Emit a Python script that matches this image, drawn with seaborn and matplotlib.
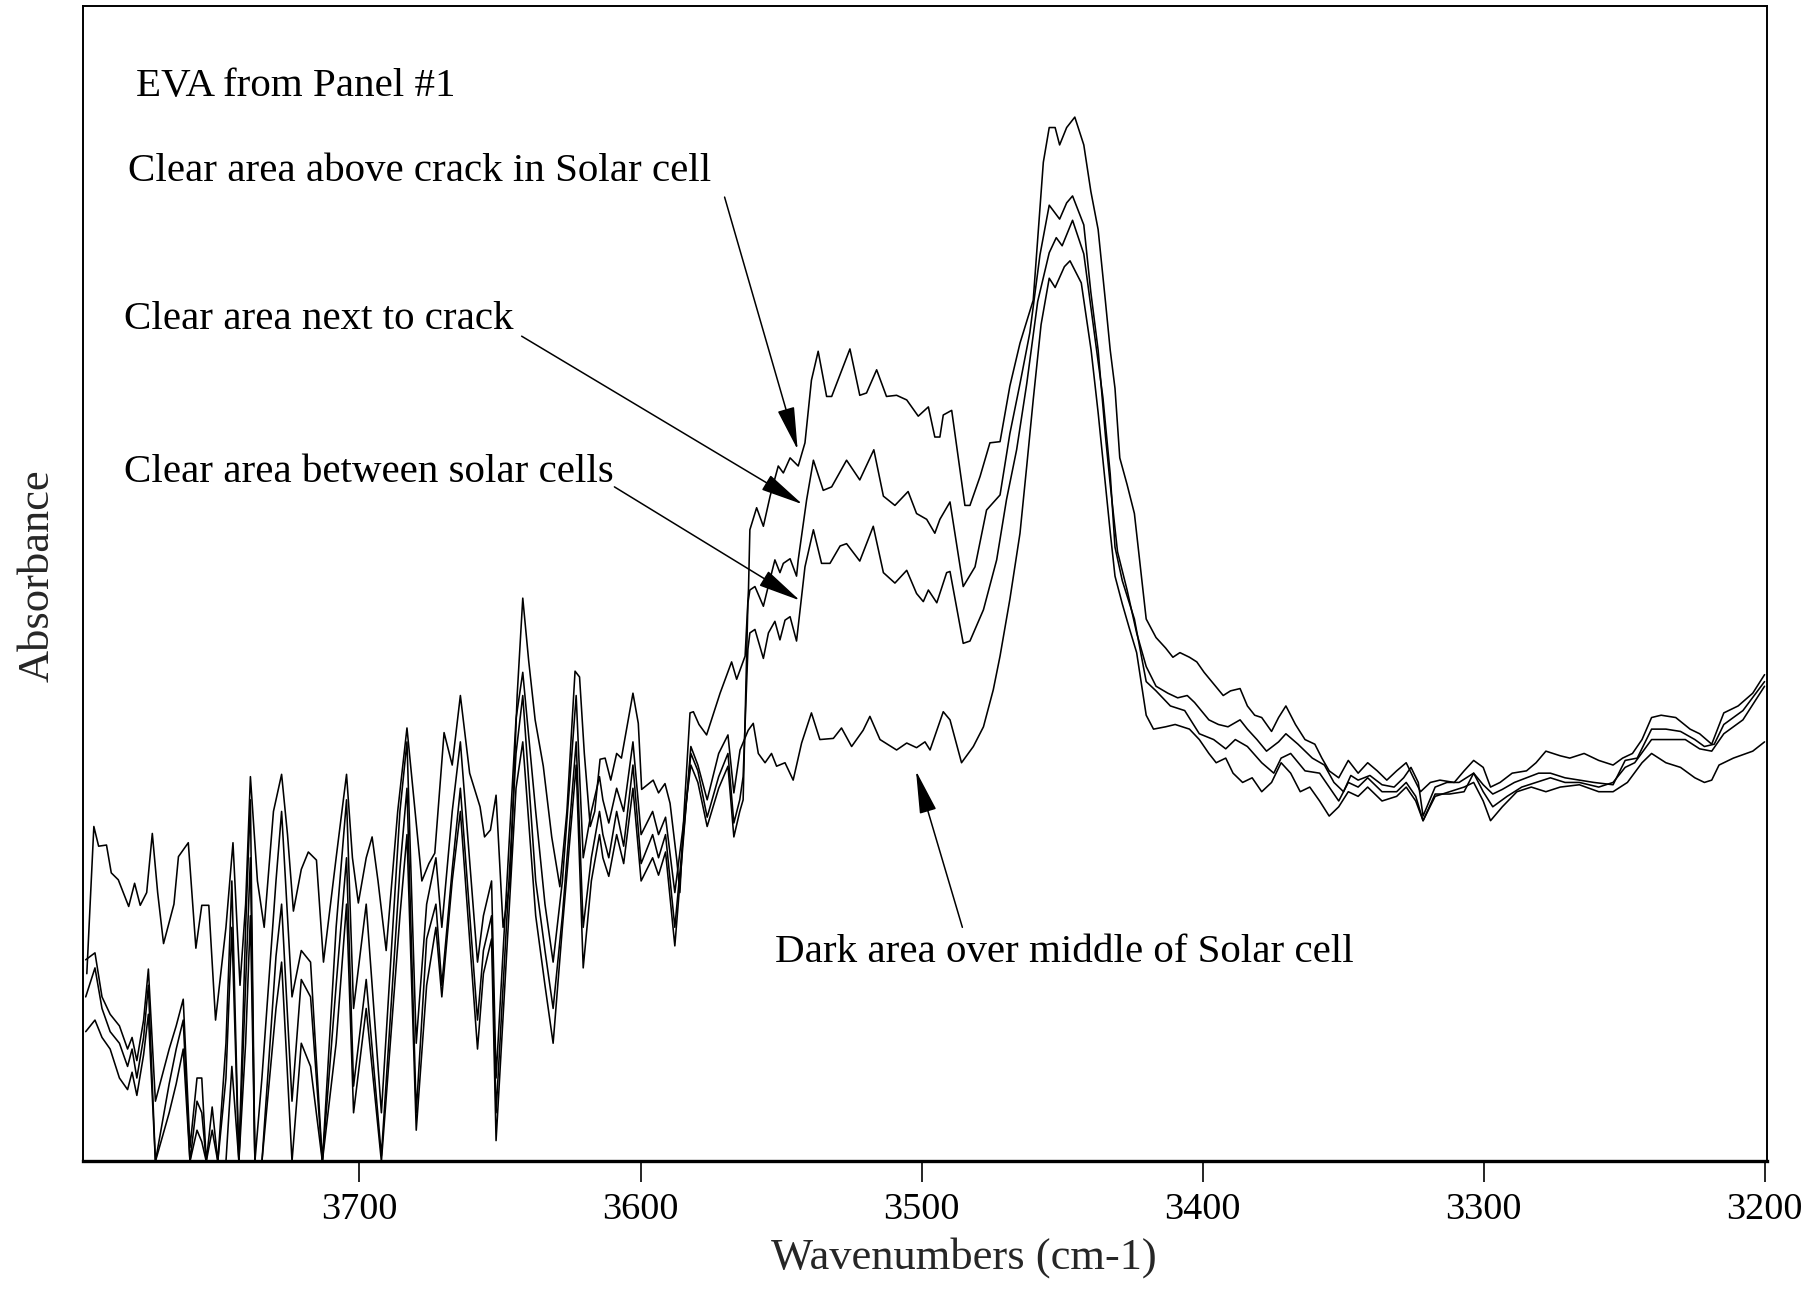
import matplotlib
matplotlib.use("Agg")
import matplotlib.pyplot as plt
import seaborn as sns
import pandas as pd

# ---------------- data (wavenumber cm-1, absorbance in arbitrary units) ----------------
# shared sampling positions of the noisy water-vapour region for the three lower spectra
noise_wn = [3797.4, 3794.1, 3791.6, 3788.7, 3785.4, 3782.5, 3780.9, 3779.2, 3776.8, 3775.1,
            3772.6, 3767.7, 3765.2, 3762.7, 3760.3, 3757.8, 3756.1, 3754.5, 3752.4, 3750.4,
            3747.5, 3745.4, 3742.9, 3740.5, 3738.8, 3737.2, 3734.7, 3729.7, 3727.7, 3724.0,
            3720.7, 3717.4, 3713.2, 3708.3, 3704.6, 3702.1, 3697.6, 3692.2, 3685.6, 3683.1,
            3679.8, 3676.1, 3672.8, 3670.7, 3667.0, 3664.1, 3658.0, 3655.9, 3653.0, 3651.4,
            3644.3, 3641.9, 3637.3, 3634.0, 3631.1, 3627.8, 3622.9, 3620.4, 3617.5, 3614.6,
            3613.4, 3611.3, 3608.5, 3606.0, 3602.7, 3599.8, 3595.7, 3593.6, 3591.1, 3587.8,
            3582.1, 3579.6, 3576.3, 3572.2, 3568.9, 3566.8, 3564.7, 3563.5]

# --- Curve A: Clear area above crack in Solar cell ---
a_noise_wn = [3797.0, 3794.5, 3792.8, 3790.0, 3788.3, 3785.8, 3782.1, 3780.0, 3778.0, 3775.7,
              3773.7, 3771.8, 3769.7, 3766.0, 3764.4, 3760.9, 3758.2, 3756.1, 3753.6, 3751.2,
              3747.5, 3745.0, 3742.5, 3740.5, 3738.8, 3736.3, 3733.9, 3730.6, 3727.7, 3725.6,
              3723.5, 3720.7, 3718.2, 3715.3, 3712.8, 3708.3, 3704.6, 3702.5, 3700.4, 3697.6,
              3695.5, 3693.4, 3690.5, 3686.4, 3683.1, 3680.2, 3677.8, 3675.3, 3673.2, 3669.9,
              3667.0, 3664.1, 3660.8, 3657.1, 3655.5, 3653.4, 3651.4, 3648.9, 3646.4, 3643.9,
              3641.9, 3639.8, 3637.5, 3634.6, 3631.6, 3628.7, 3626.2, 3623.3, 3621.7, 3620.0,
              3617.9, 3616.3, 3614.4, 3612.6, 3610.6, 3608.5, 3606.8, 3602.7, 3600.8, 3599.6,
              3595.5, 3593.6, 3591.3, 3589.5, 3587.1, 3586.0, 3584.5, 3582.4, 3581.2, 3579.2,
              3576.5, 3571.7, 3567.6, 3565.8, 3562.8, 3561.6]
a_noise_abs = [0.162, 0.289, 0.272, 0.273, 0.249, 0.243, 0.220, 0.240, 0.221, 0.232,
               0.283, 0.232, 0.188, 0.222, 0.263, 0.275, 0.184, 0.221, 0.221, 0.122,
               0.202, 0.275, 0.152, 0.222, 0.332, 0.242, 0.202, 0.302, 0.334, 0.282,
               0.216, 0.252, 0.267, 0.260, 0.172, 0.262, 0.334, 0.262, 0.223, 0.262,
               0.280, 0.242, 0.182, 0.302, 0.374, 0.302, 0.242, 0.257, 0.266, 0.370,
               0.342, 0.402, 0.335, 0.306, 0.280, 0.286, 0.316, 0.202, 0.242, 0.402,
               0.486, 0.432, 0.381, 0.341, 0.280, 0.237, 0.302, 0.423, 0.418, 0.352,
               0.289, 0.302, 0.347, 0.348, 0.329, 0.352, 0.348, 0.404, 0.378, 0.321,
               0.329, 0.318, 0.326, 0.309, 0.260, 0.232, 0.302, 0.387, 0.388, 0.377,
               0.368, 0.404, 0.431, 0.416, 0.436, 0.493]
a_band_wn = [3561.1, 3558.7, 3556.3, 3553.9, 3551.0, 3549.2, 3546.8, 3543.9, 3541.5, 3539.2,
             3536.8, 3533.8, 3532.0, 3525.5, 3522.0, 3519.6, 3516.0, 3512.5, 3508.9, 3505.3,
             3501.2, 3497.6, 3495.3, 3493.5, 3492.3, 3489.3, 3484.6, 3482.8, 3479.2, 3475.7,
             3472.1, 3468.6, 3465.0, 3460.3,
             3456.7, 3454.6, 3452.5, 3450.9, 3448.4, 3445.5,
             3442.3, 3439.8, 3437.2, 3434.6, 3432.9, 3431.2, 3429.5, 3426.9, 3424.3, 3422.6, 3420.1]
a_band_abs = [0.545, 0.564, 0.548, 0.574, 0.600, 0.594, 0.607, 0.600, 0.620, 0.674,
              0.699, 0.660, 0.660, 0.701, 0.661, 0.663, 0.683, 0.660, 0.661, 0.657,
              0.643, 0.651, 0.625, 0.625, 0.644, 0.648, 0.566, 0.566, 0.591, 0.620,
              0.621, 0.669, 0.706, 0.743,
              0.862, 0.892, 0.892, 0.877, 0.892, 0.901,
              0.877, 0.837, 0.804, 0.742, 0.700, 0.667, 0.607, 0.584, 0.559, 0.522, 0.468]
a_tail_wn = [3416.6, 3413.2, 3410.6, 3408.1, 3404.7, 3402.1, 3399.5, 3396.1, 3392.7, 3390.1,
             3386.7, 3384.1, 3381.5, 3379.0, 3375.5, 3373.0, 3370.4, 3367.0, 3363.6, 3360.1,
             3357.6, 3355.0, 3351.6, 3348.2, 3344.7, 3341.3, 3337.9, 3334.5, 3331.0, 3327.6,
             3325.0, 3322.5, 3319.0, 3315.6, 3310.5, 3307.0, 3303.6, 3300.2, 3297.6, 3294.2,
             3289.9, 3284.8, 3281.4, 3277.9, 3272.8, 3269.4, 3264.3, 3259.1, 3254.0, 3250.6,
             3247.1, 3243.7, 3240.3, 3236.9, 3231.7, 3226.6, 3223.2, 3218.9, 3214.6, 3209.5,
             3204.3, 3200.1]
a_tail_abs = [0.452, 0.443, 0.435, 0.439, 0.435, 0.431, 0.422, 0.412, 0.402, 0.406,
              0.408, 0.393, 0.385, 0.383, 0.371, 0.383, 0.393, 0.377, 0.364, 0.360,
              0.348, 0.337, 0.331, 0.346, 0.335, 0.344, 0.337, 0.329, 0.337, 0.344,
              0.331, 0.319, 0.327, 0.329, 0.327, 0.337, 0.346, 0.340, 0.323, 0.327,
              0.335, 0.337, 0.344, 0.354, 0.350, 0.348, 0.352, 0.346, 0.342, 0.348,
              0.352, 0.364, 0.383, 0.385, 0.383, 0.373, 0.369, 0.360, 0.387, 0.393,
              0.404, 0.420]

# --- Curve B: Clear area next to crack ---
b_noise_abs = [0.174, 0.180, 0.142, 0.127, 0.117, 0.097, 0.107, 0.087, 0.122, 0.166,
               0.052, 0.097, 0.117, 0.140, 0.012, 0.072, 0.072, 0.0, 0.047, 0.0,
               0.102, 0.242, 0.0, 0.202, 0.312, 0.0, 0.072, 0.242, 0.302, 0.142,
               0.182, 0.172, 0.0, 0.202, 0.312, 0.132, 0.222, 0.042, 0.302, 0.362,
               0.102, 0.222, 0.262, 0.202, 0.302, 0.362, 0.172, 0.212, 0.242, 0.072,
               0.382, 0.422, 0.302, 0.222, 0.172, 0.242, 0.402, 0.262, 0.302, 0.332,
               0.312, 0.292, 0.322, 0.302, 0.362, 0.282, 0.302, 0.282, 0.297, 0.232,
               0.342, 0.327, 0.289, 0.322, 0.341, 0.280, 0.302, 0.312]
b_band_wn = [3561.8, 3561.1, 3559.3, 3556.3, 3555.2, 3552.2, 3550.4, 3549.2, 3546.8, 3544.5, 3543.9,
             3540.9, 3538.5, 3535.0, 3532.0, 3526.7, 3522.0, 3517.0, 3513.6, 3509.5, 3504.8,
             3501.8, 3498.2, 3495.3, 3493.5, 3489.9, 3485.2, 3481.0, 3476.9, 3472.1, 3468.6,
             3465.0, 3461.5,
             3457.9, 3454.6, 3450.9, 3448.4, 3446.3]
b_band_abs = [0.482, 0.493, 0.496, 0.479, 0.490, 0.519, 0.508, 0.516, 0.520, 0.505, 0.519,
              0.571, 0.605, 0.579, 0.582, 0.605, 0.588, 0.614, 0.574, 0.566, 0.578,
              0.559, 0.554, 0.542, 0.554, 0.569, 0.496, 0.513, 0.562, 0.575, 0.628,
              0.671, 0.715,
              0.782, 0.825, 0.813, 0.827, 0.833]
b_tail_wn = [3442.3, 3439.8, 3437.2, 3434.6, 3432.9, 3430.3, 3426.9, 3423.5, 3420.1, 3416.6,
             3412.4, 3408.9, 3405.5, 3402.9, 3397.8, 3394.4, 3391.0, 3386.7, 3384.1, 3380.7,
             3377.3, 3373.0, 3370.4, 3366.1, 3361.0, 3356.7, 3353.3, 3349.9, 3347.3, 3344.7,
             3340.5, 3336.2, 3331.9, 3328.5, 3325.9, 3323.3, 3321.6, 3317.3, 3313.1, 3308.8,
             3303.6, 3300.2, 3296.8, 3293.4, 3289.1, 3284.8, 3280.5, 3276.3, 3271.1, 3266.0,
             3260.8, 3254.0, 3249.7, 3245.4, 3240.3, 3235.2, 3230.0, 3224.9, 3221.5, 3218.0,
             3214.6, 3207.8, 3200.1]
b_tail_abs = [0.808, 0.750, 0.700, 0.626, 0.584, 0.526, 0.493, 0.456, 0.427, 0.410,
              0.404, 0.400, 0.402, 0.396, 0.381, 0.377, 0.375, 0.381, 0.373, 0.364,
              0.354, 0.362, 0.369, 0.360, 0.348, 0.342, 0.327, 0.319, 0.333, 0.329,
              0.333, 0.325, 0.323, 0.331, 0.340, 0.327, 0.298, 0.323, 0.327, 0.327,
              0.335, 0.325, 0.317, 0.321, 0.327, 0.331, 0.335, 0.335, 0.331, 0.329,
              0.327, 0.325, 0.346, 0.348, 0.373, 0.373, 0.371, 0.364, 0.358, 0.360,
              0.377, 0.389, 0.414]

# --- Curve C: Clear area between solar cells ---
c_noise_abs = [0.142, 0.167, 0.132, 0.112, 0.102, 0.082, 0.097, 0.072, 0.107, 0.152,
               0.0, 0.067, 0.097, 0.122, 0.0, 0.052, 0.042, 0.0, 0.027, 0.0,
               0.072, 0.202, 0.0, 0.152, 0.262, 0.0, 0.0, 0.177, 0.222, 0.052,
               0.157, 0.142, 0.0, 0.152, 0.262, 0.065, 0.157, 0.005, 0.252, 0.322,
               0.042, 0.192, 0.222, 0.152, 0.252, 0.322, 0.122, 0.182, 0.212, 0.042,
               0.352, 0.402, 0.242, 0.182, 0.132, 0.212, 0.362, 0.202, 0.262, 0.302,
               0.282, 0.262, 0.302, 0.272, 0.342, 0.257, 0.282, 0.262, 0.282, 0.202,
               0.352, 0.337, 0.297, 0.332, 0.352, 0.292, 0.312, 0.332]
c_band_wn = [3561.8, 3561.1, 3559.3, 3556.3, 3554.5, 3552.2, 3550.4, 3548.6, 3546.8, 3544.5, 3541.5,
             3538.5, 3535.6, 3532.6, 3529.0, 3526.7, 3522.0, 3517.2, 3513.6, 3509.5, 3505.3,
             3501.8, 3499.4, 3497.6, 3494.6, 3491.1, 3489.9, 3485.2, 3482.8, 3478.0, 3473.3,
             3469.8, 3466.2, 3462.6,
             3458.7, 3454.6, 3452.1, 3450.0, 3446.3]
c_band_abs = [0.442, 0.456, 0.459, 0.434, 0.456, 0.466, 0.450, 0.467, 0.470, 0.449, 0.513,
              0.545, 0.516, 0.516, 0.531, 0.533, 0.518, 0.548, 0.508, 0.499, 0.510,
              0.490, 0.483, 0.493, 0.482, 0.508, 0.509, 0.447, 0.449, 0.476, 0.519,
              0.571, 0.614, 0.671,
              0.742, 0.784, 0.797, 0.790, 0.812]
c_tail_wn = [3442.3, 3438.9, 3435.5, 3432.9, 3431.2, 3428.6, 3424.3, 3420.1, 3416.6, 3411.5,
             3406.4, 3401.2, 3396.1, 3391.8, 3388.4, 3384.1, 3379.0, 3374.7, 3372.1, 3368.7,
             3363.6, 3358.4, 3355.0, 3351.6, 3348.2, 3344.7, 3341.3, 3336.2, 3331.0, 3327.6,
             3324.2, 3321.6, 3317.3, 3312.2, 3307.0, 3303.6, 3300.2, 3296.8, 3291.7, 3286.5,
             3281.4, 3276.3, 3271.1, 3266.0, 3259.1, 3254.0, 3249.7, 3246.3, 3240.3, 3235.2,
             3228.3, 3223.2, 3218.9, 3214.6, 3207.8, 3200.1]
c_tail_abs = [0.783, 0.721, 0.659, 0.593, 0.530, 0.501, 0.468, 0.414, 0.406, 0.393,
              0.389, 0.369, 0.364, 0.356, 0.364, 0.358, 0.344, 0.335, 0.348, 0.352,
              0.337, 0.335, 0.323, 0.311, 0.327, 0.323, 0.331, 0.319, 0.319, 0.327,
              0.315, 0.294, 0.317, 0.317, 0.319, 0.335, 0.319, 0.306, 0.315, 0.323,
              0.327, 0.331, 0.327, 0.327, 0.323, 0.327, 0.340, 0.344, 0.364, 0.364,
              0.364, 0.356, 0.354, 0.369, 0.381, 0.410]

# --- Curve D: Dark area over middle of Solar cell ---
d_noise_abs = [0.112, 0.122, 0.107, 0.097, 0.072, 0.062, 0.077, 0.057, 0.092, 0.127,
               0.0, 0.042, 0.067, 0.097, 0.0, 0.027, 0.017, 0.0, 0.0, 0.0,
               0.0, 0.082, 0.0, 0.102, 0.212, 0.0, 0.0, 0.132, 0.172, 0.0,
               0.102, 0.082, 0.0, 0.102, 0.222, 0.042, 0.132, 0.0, 0.212, 0.282,
               0.027, 0.152, 0.202, 0.142, 0.242, 0.302, 0.097, 0.162, 0.192, 0.018,
               0.322, 0.362, 0.212, 0.152, 0.102, 0.202, 0.342, 0.167, 0.242, 0.282,
               0.262, 0.246, 0.282, 0.257, 0.322, 0.242, 0.262, 0.247, 0.267, 0.186,
               0.358, 0.342, 0.312, 0.352, 0.368, 0.318]
d_band_wn = [3564.6, 3561.7, 3559.9, 3558.1, 3555.7, 3553.4, 3551.6, 3548.6, 3545.7, 3542.7,
             3539.2, 3536.2, 3531.4, 3528.5, 3524.9, 3520.8, 3518.4, 3514.8, 3508.9, 3505.3,
             3501.8, 3498.8, 3497.0, 3492.3, 3489.9, 3485.8, 3481.6, 3478.0, 3474.5, 3472.1,
             3468.6, 3465.0, 3462.6, 3460.3,
             3457.5, 3454.6, 3452.5, 3449.2, 3447.2]
d_band_abs = [0.355, 0.372, 0.378, 0.352, 0.344, 0.352, 0.341, 0.344, 0.329, 0.361,
              0.387, 0.364, 0.365, 0.374, 0.358, 0.372, 0.384, 0.364, 0.355, 0.361,
              0.357, 0.362, 0.355, 0.388, 0.381, 0.344, 0.358, 0.375, 0.407, 0.436,
              0.485, 0.542, 0.600, 0.657,
              0.722, 0.762, 0.754, 0.772, 0.777]
d_tail_wn = [3443.2, 3439.7, 3437.2, 3434.6, 3432.9, 3431.2, 3428.6, 3426.1, 3423.5, 3420.1,
             3417.5, 3413.2, 3409.8, 3404.7, 3401.2, 3397.8, 3395.2, 3391.8, 3389.2, 3385.8,
             3382.4, 3379.0, 3375.5, 3372.1, 3368.7, 3365.3, 3361.9, 3358.4, 3355.0, 3351.6,
             3348.2, 3344.7, 3341.3, 3336.2, 3331.0, 3327.6, 3324.2, 3321.6, 3317.3, 3312.2,
             3307.0, 3303.6, 3300.2, 3297.6, 3293.4, 3288.2, 3283.1, 3277.9, 3272.8, 3266.0,
             3259.1, 3254.0, 3248.9, 3243.7, 3240.3, 3235.2, 3230.0, 3224.9, 3221.5, 3218.9,
             3216.3, 3211.2, 3204.3, 3200.1]
d_tail_abs = [0.758, 0.700, 0.646, 0.584, 0.543, 0.505, 0.481, 0.460, 0.439, 0.385,
              0.373, 0.375, 0.377, 0.373, 0.364, 0.352, 0.344, 0.348, 0.335, 0.327,
              0.331, 0.319, 0.327, 0.344, 0.335, 0.319, 0.323, 0.311, 0.298, 0.306,
              0.319, 0.315, 0.323, 0.311, 0.315, 0.323, 0.311, 0.294, 0.315, 0.319,
              0.323, 0.327, 0.311, 0.294, 0.306, 0.319, 0.323, 0.319, 0.323, 0.325,
              0.319, 0.319, 0.327, 0.344, 0.352, 0.344, 0.340, 0.331, 0.327, 0.329,
              0.342, 0.348, 0.354, 0.362]

x_ticks = [3700, 3600, 3500, 3400, 3300, 3200]
title_text = "EVA from Panel #1"
labels = ["Clear area above crack in Solar cell",
          "Clear area next to crack",
          "Clear area between solar cells",
          "Dark area over middle of Solar cell"]

# ---------------- assemble ----------------
curves = {
    "A": (a_noise_wn + a_band_wn + a_tail_wn, a_noise_abs + a_band_abs + a_tail_abs),
    "B": (noise_wn + b_band_wn + b_tail_wn, b_noise_abs + b_band_abs + b_tail_abs),
    "C": (noise_wn + c_band_wn + c_tail_wn, c_noise_abs + c_band_abs + c_tail_abs),
    "D": (noise_wn[:-2] + d_band_wn + d_tail_wn, d_noise_abs + d_band_abs + d_tail_abs),
}
frames = []
for k, (w, a) in curves.items():
    assert len(w) == len(a), (k, len(w), len(a))
    frames.append(pd.DataFrame({"wn": w, "absorbance": a, "sample": k}))
df = pd.concat(frames, ignore_index=True)

# ---------------- plot ----------------
sns.set_style("white")
plt.rcParams["font.family"] = ["Liberation Serif", "DejaVu Serif"]

fig = plt.figure(figsize=(18.18, 12.96), dpi=100)
ax = fig.add_axes([0.0459, 0.1038, 0.9261, 0.8917])

for k in ["A", "B", "C", "D"]:
    sub = df[df["sample"] == k]
    sns.lineplot(data=sub, x="wn", y="absorbance", sort=False, estimator=None,
                 color="black", linewidth=1.15, ax=ax, legend=False)

ax.set_xlim(3798.2, 3199.2)
ax.set_ylim(0, 0.997)
ax.set_xticks(x_ticks)
ax.set_xticklabels([str(t) for t in x_ticks])
ax.set_yticks([])
ax.tick_params(axis="x", direction="out", length=15, width=1.2, pad=7,
               labelsize=27.5, colors="black", bottom=True)
for side in ["top", "left", "right"]:
    ax.spines[side].set_visible(True)
    ax.spines[side].set_color("black")
    ax.spines[side].set_linewidth(1.4)
ax.spines["bottom"].set_color("black")
ax.spines["bottom"].set_linewidth(2.4)

ax.set_xlabel("Wavenumbers (cm-1)", fontsize=32)
ax.xaxis.set_label_coords(0.523, -0.083)
ax.xaxis.label.set_verticalalignment("center")
ax.set_ylabel("Absorbance", fontsize=32)
ax.yaxis.set_label_coords(-0.027, 0.507)
ax.yaxis.label.set_verticalalignment("center")

# text annotations
tkw = dict(fontsize=29.5, ha="left", va="center", color="black")
ax.text(3779.6, 0.927, title_text, **tkw)
ax.text(3782.5, 0.854, labels[0], **tkw)
ax.text(3783.8, 0.726, labels[1], **tkw)
ax.text(3783.8, 0.594, labels[2], **tkw)
ax.text(3552.3, 0.180, labels[3], **tkw)

akw = dict(arrowstyle="-|>,head_length=0.9,head_width=0.18", color="black",
           lw=1.1, mutation_scale=30, shrinkA=0, shrinkB=0)
ax.annotate("", xy=(3544.1, 0.614), xytext=(3570.1, 0.832), arrowprops=akw)
ax.annotate("", xy=(3542.4, 0.567), xytext=(3642.3, 0.712), arrowprops=akw)
ax.annotate("", xy=(3543.3, 0.484), xytext=(3609.3, 0.582), arrowprops=akw)
ax.annotate("", xy=(3502.0, 0.337), xytext=(3485.5, 0.202), arrowprops=akw)

fig.savefig("out.png", dpi=100, facecolor="white")
